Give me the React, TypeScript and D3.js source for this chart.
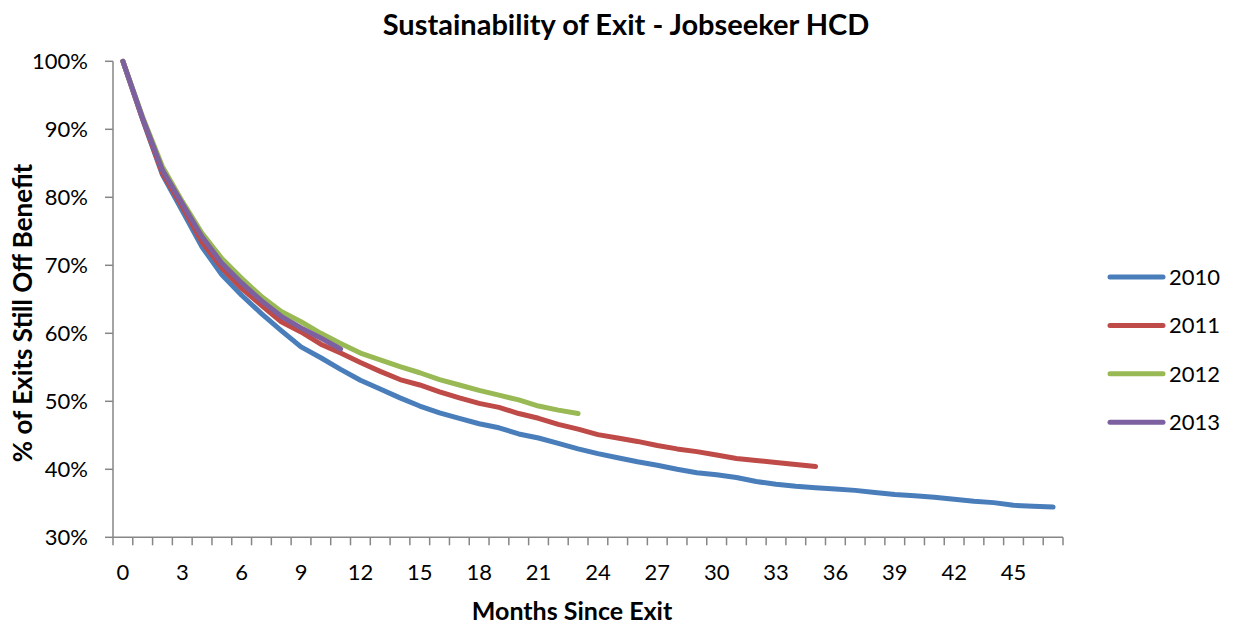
import React from "react";
import * as d3 from "d3";

const months = [0,1,2,3,4,5,6,7,8,9,10,11,12,13,14,15,16,17,18,19,20,21,22,23,24,25,26,27,28,29,30,31,32,33,34,35,36,37,38,39,40,41,42,43,44,45,46,47];
const yTicks = [30, 40, 50, 60, 70, 80, 90, 100];
const xTickLabels = [0, 3, 6, 9, 12, 15, 18, 21, 24, 27, 30, 33, 36, 39, 42, 45];

const s2010 = [100, 91.4, 83.3, 78.0, 72.7, 68.6, 65.6, 62.9, 60.4, 58.0, 56.4, 54.7, 53.1, 51.8, 50.5, 49.3, 48.3, 47.5, 46.7, 46.1, 45.2, 44.6, 43.8, 43.0, 42.3, 41.7, 41.1, 40.6, 40.0, 39.5, 39.2, 38.8, 38.2, 37.8, 37.5, 37.3, 37.1, 36.9, 36.6, 36.3, 36.1, 35.9, 35.6, 35.3, 35.1, 34.7, 34.55, 34.45];
const s2011 = [100, 91.5, 83.5, 78.6, 73.4, 69.6, 66.6, 64.1, 61.7, 60.2, 58.4, 57.1, 55.7, 54.4, 53.2, 52.4, 51.4, 50.5, 49.7, 49.1, 48.2, 47.5, 46.6, 45.9, 45.1, 44.6, 44.1, 43.5, 43.0, 42.6, 42.1, 41.6, 41.3, 41.0, 40.7, 40.4];
const s2012 = [100, 91.8, 84.5, 79.4, 74.7, 71.0, 68.1, 65.4, 63.2, 61.7, 60.0, 58.5, 57.1, 56.1, 55.1, 54.2, 53.2, 52.4, 51.6, 50.9, 50.2, 49.3, 48.7, 48.2];
const s2013 = [100, 91.6, 84.0, 79.1, 74.2, 70.3, 67.4, 64.8, 62.5, 60.8, 59.3, 57.7];

const seriesNames = ["2010", "2011", "2012", "2013"];
const seriesData = [s2010, s2011, s2012, s2013];
const colors = ["#4A7EBB", "#BE4B48", "#98B954", "#7D60A0"];

const FONT = "Lato, 'Open Sans', sans-serif";

export default function App() {
  const W = 1237, H = 624;
  const x = d3.scaleBand<number>().domain(months).range([113, 1063]);
  const y = d3.scaleLinear().domain([30, 100]).range([537.3, 61.3]);
  const cx = (m: number) => (x(m) as number) + x.bandwidth() / 2;
  const line = d3.line<number>().x((_, i) => cx(months[i])).y((v) => y(v));
  const axisColor = "#868686";
  const tickBounds = d3.range(months.length + 1).map((i) => 113 + i * x.bandwidth());

  return (
    <svg width={W} height={H} style={{ position: "absolute", left: 0, top: 0, background: "#fff" }}>
      <text x={626} y={35} textAnchor="middle" fontFamily={FONT} fontWeight="bold" fontSize={29} fill="#000">
        Sustainability of Exit - Jobseeker HCD
      </text>
      {/* y axis */}
      <line x1={113} x2={113} y1={y(100)} y2={y(30)} stroke={axisColor} strokeWidth={1.5} />
      {yTicks.map((t) => (
        <g key={t}>
          <line x1={105} x2={113} y1={y(t)} y2={y(t)} stroke={axisColor} strokeWidth={1.5} />
          <text x={88} y={y(t)} dy="0.36em" textAnchor="end" fontFamily={FONT} fontSize={22} fill="#000">
            {t}%
          </text>
        </g>
      ))}
      {/* x axis */}
      <line x1={113} x2={1063} y1={y(30)} y2={y(30)} stroke={axisColor} strokeWidth={1.5} />
      {tickBounds.map((tx, i) => (
        <line key={i} x1={tx} x2={tx} y1={y(30)} y2={y(30) + 8} stroke={axisColor} strokeWidth={1.5} />
      ))}
      {xTickLabels.map((m) => (
        <text key={m} x={cx(m)} y={580} textAnchor="middle" fontFamily={FONT} fontSize={22} fill="#000">
          {m}
        </text>
      ))}
      <text x={572} y={620} textAnchor="middle" fontFamily={FONT} fontWeight="bold" fontSize={25} fill="#000">
        Months Since Exit
      </text>
      <text
        transform={`translate(32,313) rotate(-90)`}
        textAnchor="middle"
        fontFamily={FONT}
        fontWeight="bold"
        fontSize={26}
        fill="#000"
      >
        % of Exits Still Off Benefit
      </text>
      {/* series */}
      {seriesData.map((s, i) => (
        <path
          key={seriesNames[i]}
          d={line(s) as string}
          fill="none"
          stroke={colors[i]}
          strokeWidth={5}
          strokeLinejoin="round"
          strokeLinecap="round"
        />
      ))}
      {/* legend */}
      {seriesNames.map((n, i) => {
        const ly = 277 + i * 48.4;
        return (
          <g key={n}>
            <line x1={1110} x2={1163} y1={ly} y2={ly} stroke={colors[i]} strokeWidth={5} strokeLinecap="round" />
            <text x={1169} y={ly} dy="0.36em" fontFamily={FONT} fontSize={22} fill="#000">
              {n}
            </text>
          </g>
        );
      })}
    </svg>
  );
}
